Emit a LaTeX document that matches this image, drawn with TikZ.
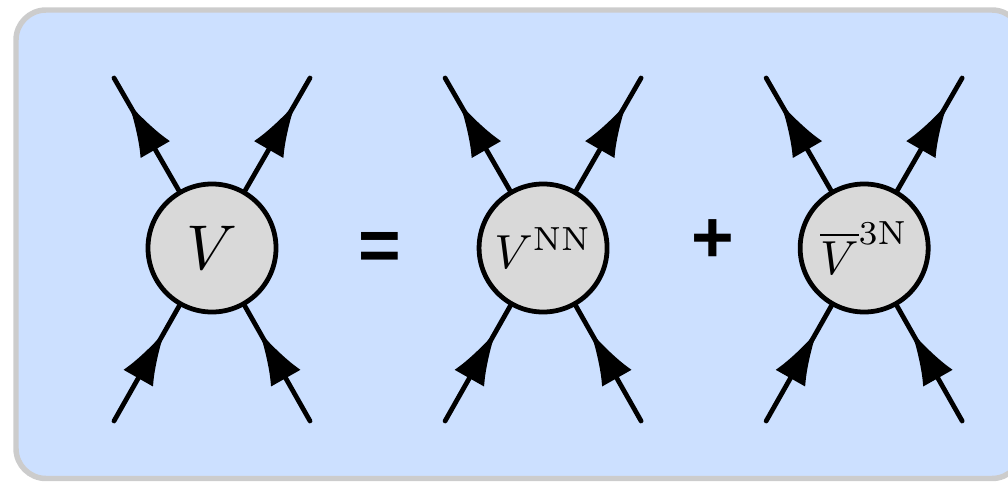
\documentclass[tikz,border=0pt]{standalone}
\usepackage{amsmath}
\usepackage{amssymb}
\usepackage{fontspec}
\usepackage{tikz}
\usetikzlibrary{arrows.meta, decorations.markings, positioning}
\usepackage{xcolor}

\newfontfamily\opfont{Liberation Sans}
\newcommand{\vlabel}[2][3.4]{\scalebox{#1}{$#2$}}
\definecolor{panelblue}{RGB}{204,224,255}
\definecolor{panelgray}{RGB}{204,204,204}
\definecolor{vertexgray}{RGB}{217,217,217}

\begin{document}
\begin{tikzpicture}[x=0.025cm,y=0.025cm,node distance=8.275cm]
  \tikzstyle{vertex}=[circle,draw,line width=3.4pt,fill=vertexgray,
    minimum size=3.2cm,inner sep=0pt]
  \tikzstyle{op}=[inner sep=0pt,font=\fontsize{52}{60}\selectfont\opfont\bfseries]
  \tikzstyle{leg}=[line width=3.4pt,line cap=round,postaction={decorate},
    decoration={markings,mark=at position 0.78 with
      {\arrow{Latex[length=1.35cm,width=0.85cm]}}}]

  \useasboundingbox (0,0) rectangle (1008,483);
  \draw[rounded corners=0.75cm,fill=panelblue,draw=panelgray,line width=3.9pt]
    (16,4.5) rectangle (1022,473);

  \node[vertex] (v)                                        at (212,235) {\vlabel[4.5]{V}};
  \node[vertex] (v_nn) [right of=v]                                     {\vlabel{V^{\mathrm{NN}}}};
  \node[vertex] (v_3n) [right of=v_nn,node distance=8.025cm]            {\vlabel{\overline{V}^{3\mathrm{N}}}};
  \node[op]     (eq)   [right of=v,node distance=4.2cm,yshift=-0.075cm] {=};
  \node[op]     (plus) [right of=v_nn,node distance=4.25cm,yshift=0.175cm] {+};

  % outer ends of the legs
  \coordinate (v_in1)     at ([shift={(-98,-173)}]v.center);
  \coordinate (v_in2)     at ([shift={(98,-173)}]v.center);
  \coordinate (v_out1)    at ([shift={(-98,170)}]v.center);
  \coordinate (v_out2)    at ([shift={(98,170)}]v.center);
  \coordinate (v_nn_in1)  at ([shift={(-98,-173)}]v_nn.center);
  \coordinate (v_nn_in2)  at ([shift={(98,-173)}]v_nn.center);
  \coordinate (v_nn_out1) at ([shift={(-98,170)}]v_nn.center);
  \coordinate (v_nn_out2) at ([shift={(98,170)}]v_nn.center);
  \coordinate (v_3n_in1)  at ([shift={(-98,-173)}]v_3n.center);
  \coordinate (v_3n_in2)  at ([shift={(98,-173)}]v_3n.center);
  \coordinate (v_3n_out1) at ([shift={(-98,170)}]v_3n.center);
  \coordinate (v_3n_out2) at ([shift={(98,170)}]v_3n.center);

  \path
  (v_in1)    edge[leg] (v)
  (v_in2)    edge[leg] (v)
  (v)        edge[leg] (v_out1)
  (v)        edge[leg] (v_out2)
  (v_nn_in1) edge[leg] (v_nn)
  (v_nn_in2) edge[leg] (v_nn)
  (v_nn)     edge[leg] (v_nn_out1)
  (v_nn)     edge[leg] (v_nn_out2)
  (v_3n_in1) edge[leg] (v_3n)
  (v_3n_in2) edge[leg] (v_3n)
  (v_3n)     edge[leg] (v_3n_out1)
  (v_3n)     edge[leg] (v_3n_out2)
  ;
\end{tikzpicture}
\end{document}
